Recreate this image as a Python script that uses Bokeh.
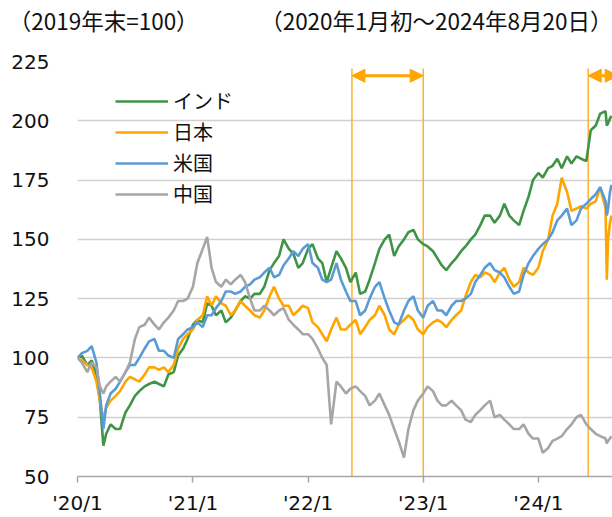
import pandas as pd
from bokeh.plotting import figure
from bokeh.models import (FixedTicker, Legend, LegendItem, Arrow, NormalHead,
                          ColumnDataSource, Range1d, DatetimeAxis)
from bokeh.embed import file_html
from bokeh.resources import INLINE

# ---------------- data ----------------
dates_2020 = ["2020-01-01", "2020-01-15", "2020-02-01", "2020-02-15", "2020-03-01",
              "2020-03-12", "2020-03-23", "2020-04-01", "2020-04-15", "2020-05-01",
              "2020-05-15", "2020-06-01", "2020-06-15", "2020-07-01", "2020-07-15",
              "2020-08-01", "2020-08-15", "2020-09-01", "2020-09-15", "2020-10-01",
              "2020-10-15", "2020-11-01", "2020-11-15", "2020-12-01", "2020-12-15"]
dates_2021_2023 = [f"{y}-{m:02d}-{d:02d}" for y in (2021, 2022, 2023)
                   for m in range(1, 13) for d in (1, 15)]
dates_2024 = ["2024-01-01", "2024-01-15", "2024-02-01", "2024-02-15", "2024-03-01",
              "2024-03-15", "2024-04-01", "2024-04-15", "2024-05-01", "2024-05-15",
              "2024-06-01", "2024-06-15", "2024-07-01", "2024-07-15", "2024-08-01",
              "2024-08-05", "2024-08-09", "2024-08-15", "2024-08-20"]
dates = dates_2020 + dates_2021_2023 + dates_2024

india = [100, 101, 97, 99, 93, 82, 63, 68, 72, 70, 70, 77, 80, 84, 86, 88, 89, 90, 89, 88, 93, 94, 101, 104, 108,
         114, 116, 115, 123, 122, 118, 120, 115, 117, 120, 124, 126, 125, 127, 127, 130, 137, 140, 143, 150, 146, 144, 138, 140,
         146, 148, 142, 140, 132, 138, 145, 142, 138, 132, 136, 127, 128, 133, 140, 146, 150, 152, 143, 147, 150, 153, 154, 150,
         148, 147, 145, 142, 139, 137, 140, 142, 145, 147, 150, 152, 156, 160, 160, 157, 160, 165, 160, 158, 156, 162, 168, 175,
         178, 176, 180, 181, 184, 180, 185, 182, 185, 184, 183, 196, 198, 203, 204, 198, 199, 201, 202]
japan = [100, 99, 97, 96, 90, 82, 74, 79, 82, 84, 86, 90, 92, 91, 90, 93, 96, 96, 95, 96, 94, 97, 104, 108, 110,
         112, 116, 118, 126, 122, 126, 123, 122, 118, 120, 124, 122, 120, 118, 117, 120, 126, 130, 125, 122, 122, 118, 120, 122,
         121, 115, 113, 110, 107, 112, 117, 112, 112, 114, 116, 110, 113, 116, 118, 122, 118, 112, 110, 114, 116, 118, 116, 112,
         110, 113, 115, 116, 115, 113, 116, 118, 120, 126, 132, 135, 134, 136, 135, 132, 136, 138, 133, 130, 132, 138, 136, 135,
         138, 145, 150, 160, 165, 176, 170, 162, 163, 164, 163, 165, 166, 172, 163, 133, 150, 157, 160]
usa = [100, 102, 103, 105, 98, 85, 70, 80, 85, 87, 90, 94, 97, 97, 100, 104, 107, 108, 103, 103, 101, 100, 108, 110, 112,
       113, 115, 113, 118, 118, 121, 124, 128, 128, 127, 128, 130, 131, 133, 134, 136, 138, 134, 135, 139, 142, 145, 143, 146,
       148, 140, 138, 133, 132, 133, 140, 133, 128, 124, 124, 118, 120, 125, 130, 132, 125, 120, 115, 114, 120, 124, 126, 120,
       117, 122, 124, 120, 120, 118, 122, 124, 124, 125, 127, 132, 135, 138, 140, 137, 136, 134, 130, 127, 128, 135, 140, 143,
       146, 148, 150, 153, 158, 160, 163, 156, 158, 163, 165, 167, 169, 172, 166, 160, 163, 170, 173]
china = [100, 98, 94, 98, 96, 88, 85, 88, 90, 92, 90, 94, 98, 108, 113, 114, 117, 114, 112, 115, 117, 120, 124, 124, 125,
         130, 140, 146, 151, 138, 132, 130, 133, 131, 133, 135, 132, 125, 120, 120, 122, 120, 118, 120, 121, 116, 114, 112, 110,
         110, 108, 104, 100, 97, 72, 90, 88, 85, 87, 88, 86, 84, 80, 82, 85, 80, 76, 70, 65, 58, 70, 78, 82,
         85, 88, 86, 82, 80, 80, 82, 80, 78, 74, 73, 76, 78, 80, 82, 75, 76, 74, 72, 70, 70, 72, 68, 66,
         66, 60, 62, 65, 66, 67, 70, 72, 75, 76, 72, 70, 68, 67, 66, 64, 65, 66, 67]

series_names = ["インド", "日本", "米国", "中国"]
series_colors = ["#3F9447", "#FFA500", "#5B9BD5", "#A6A6A6"]

tick_dates = ["2020-01-01", "2021-01-01", "2022-01-01", "2023-01-01", "2024-01-01"]
tick_labels = ["'20/1", "'21/1", "'22/1", "'23/1", "'24/1"]
y_ticks = [50, 75, 100, 125, 150, 175, 200, 225]

event_dates = ["2022-05-20", "2023-01-01", "2024-06-07"]
arrow_spans = [("2022-05-20", "2023-01-01"), ("2024-06-07", "2024-09-10")]

captions = ["（2019年末=100）", "（2020年1月初～2024年8月20日）"]
caption_anchor_dates = ["2020-03-24", "2023-04-12"]   # where each caption is centred

# ---------------- figure ----------------
def ms(d):
    return pd.Timestamp(d).value / 1e6

tick_font = "DejaVu Sans"
jp_font = "Noto Sans CJK JP"

x = pd.to_datetime(dates)
source = ColumnDataSource(dict(x=x, india=india, japan=japan, usa=usa, china=china))

p = figure(width=612, height=517, x_axis_type="datetime",
           x_range=Range1d(ms("2020-01-01"), ms("2024-08-23")),
           y_range=Range1d(50, 225),
           output_backend="svg", toolbar_location=None,
           min_border_left=77, min_border_right=0, min_border_top=60, min_border_bottom=38)
p.outline_line_color = None
p.background_fill_color = "white"

p.xaxis.ticker = FixedTicker(ticks=[ms(d) for d in tick_dates])
p.xaxis.major_label_overrides = {ms(d): lab for d, lab in zip(tick_dates, tick_labels)}
p.xaxis.axis_line_color = "#A6A6A6"
p.xaxis.axis_line_width = 1.5
p.xaxis.major_tick_line_color = "#A6A6A6"
p.xaxis.major_tick_line_width = 1.5
p.xaxis.major_tick_out = 6
p.xaxis.major_tick_in = 0
p.xaxis.minor_tick_line_color = None
p.xaxis.major_label_standoff = 8
p.xaxis.major_label_text_font = tick_font
p.xaxis.major_label_text_font_size = "20px"
p.xaxis.major_label_text_color = "#111111"

p.yaxis.ticker = FixedTicker(ticks=y_ticks)
p.yaxis.axis_line_color = None
p.yaxis.major_tick_line_color = None
p.yaxis.minor_tick_line_color = None
p.yaxis.major_tick_out = 0
p.yaxis.major_label_standoff = 28
p.yaxis.major_label_text_font = tick_font
p.yaxis.major_label_text_font_size = "20px"
p.yaxis.major_label_text_color = "#111111"

# captions shown in an (otherwise invisible) axis above the plot
cap_axis = DatetimeAxis(ticker=FixedTicker(ticks=[ms(d) for d in caption_anchor_dates]),
                        major_label_overrides={ms(d): c for d, c in zip(caption_anchor_dates, captions)},
                        axis_line_color=None, major_tick_line_color=None, minor_tick_line_color=None,
                        major_tick_out=0, major_tick_in=0, major_label_standoff=26,
                        major_label_text_font=jp_font, major_label_text_font_size="22.5px",
                        major_label_text_color="#111111")
p.add_layout(cap_axis, "above")

p.xgrid.grid_line_color = None
p.ygrid.ticker = FixedTicker(ticks=y_ticks)
p.ygrid.grid_line_color = "#D0D0D0"
p.ygrid.grid_line_width = 1.5

# event lines
p.segment(x0=pd.to_datetime(event_dates), y0=[50] * len(event_dates),
          x1=pd.to_datetime(event_dates), y1=[222] * len(event_dates),
          line_color="#FFB030", line_width=1.5)

for a, b in arrow_spans:
    p.add_layout(Arrow(start=NormalHead(size=13, fill_color="#FFA500", line_color="#FFA500"),
                       end=NormalHead(size=13, fill_color="#FFA500", line_color="#FFA500"),
                       x_start=ms(a), y_start=219, x_end=ms(b), y_end=219,
                       line_color="#FFA500", line_width=3))

renderers = []
for col, color in zip(["india", "japan", "usa", "china"], series_colors):
    r = p.line("x", col, source=source, line_color=color, line_width=2.6)
    renderers.append(r)

legend = Legend(items=[LegendItem(label=n, renderers=[r]) for n, r in zip(series_names, renderers)],
                location=(38, 268), orientation="vertical",
                glyph_width=53, glyph_height=24, label_height=24, spacing=2,
                label_standoff=5, padding=0, margin=0,
                label_text_font=jp_font, label_text_font_size="20px",
                label_text_color="#111111",
                background_fill_alpha=0, border_line_color=None)
p.add_layout(legend)

open("out.html", "w").write(file_html(p, INLINE))
